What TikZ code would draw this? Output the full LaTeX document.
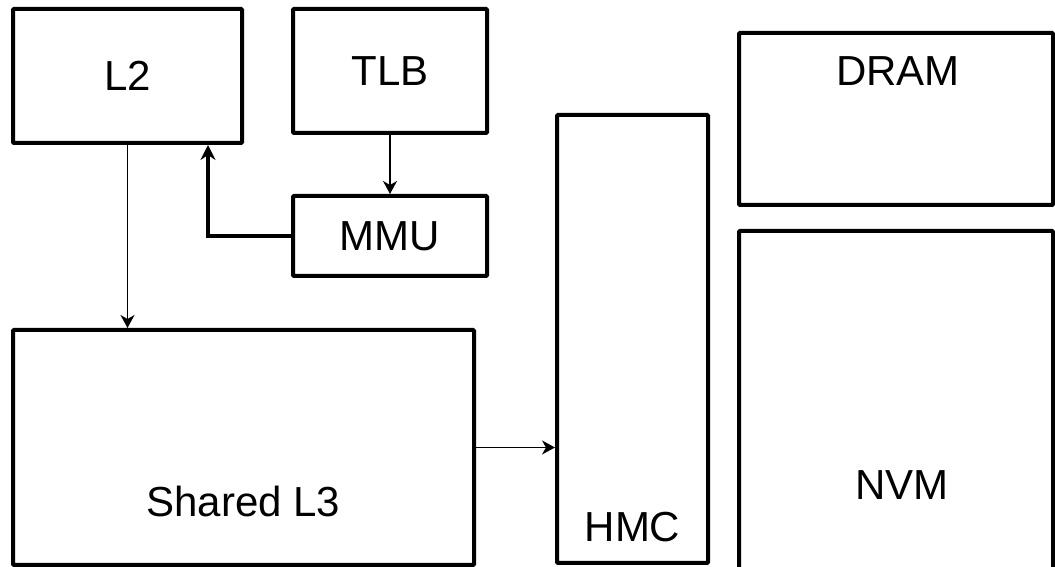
\documentclass[tikz,border=0pt]{standalone}
\usepackage{fontspec}
\setmainfont{Liberation Sans}
\usetikzlibrary{arrows.meta,calc}

\begin{document}
\begin{tikzpicture}[x=1pt, y=1pt, every node/.style={font=\fontsize{42}{50}\selectfont, inner sep=0pt},
	box/.style={draw, line width=4pt, rounded corners=1pt},
	lab/.style={anchor=base},
	link/.style={-{Stealth[length=13pt, width=14pt, inset=4pt]}, line width=1.3pt},
	boldlink/.style={-{Stealth[length=15pt, width=15pt, inset=5pt]}, line width=4pt}]
	\useasboundingbox (0,0) rectangle (1055,567);
	\clip (0,0) rectangle (1055,567);
	\node[box, minimum width=229, minimum height=134] (l2) at (127.5,491) {L2};
	\node[box, minimum width=194, minimum height=124] (tlb) at (390,496) {TLB};
	\node[box, minimum width=194, minimum height=80] (mmu) at (390,331) {MMU};
	\node[box, minimum width=461, minimum height=235] (l3) at (243.5,119.5) {};
	\node[lab] at ($(l3.south)+(0,50)$) {Shared L3};
	\node[box, minimum width=151, minimum height=448] (hmc) at (632.5,228) {};
	\node[lab] at ($(hmc.south)+(0,23)$) {HMC};
	\node[box, minimum width=314, minimum height=172] (dram) at (896,448) {};
	\node[lab] at ($(dram.north)+(2,-55)$) {DRAM};
	\node[box, minimum width=314, minimum height=400] (nvm) at (896,136) {};
	\node[lab] at ($(nvm.north)+(6,-271)$) {NVM};
	\draw[link] (l2.south) -- (l2.south |- l3.north);
	\draw[link] (tlb) -- (mmu);
	\draw[boldlink] (mmu.west) -| ($(l2.south east)+(-36,0)$);
	\draw[link] (l3.east) -- (l3.east -| hmc.west);
\end{tikzpicture}
\end{document}
